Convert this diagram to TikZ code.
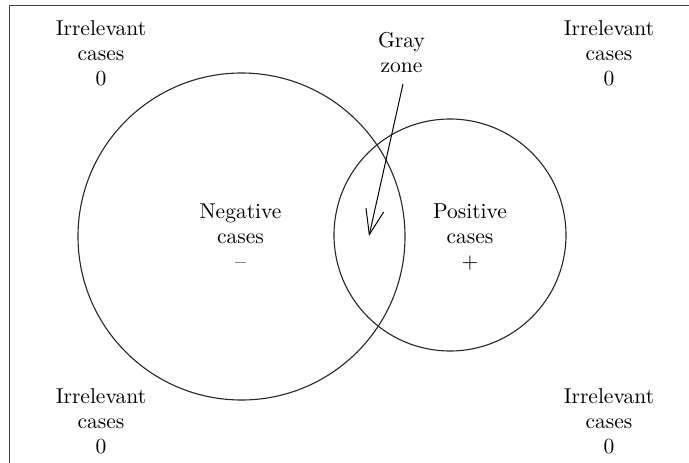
\documentclass[tikz,border=0pt]{standalone}
\usetikzlibrary{arrows.meta}
\font\bigrm="[lmroman10-regular.otf]:mapping=tex-text" at 21.5pt
\begin{document}
\begin{tikzpicture}[x=1pt,y=-1pt,
  lbl/.style={align=center,font={\bigrm\baselineskip=25pt},inner sep=0pt,anchor=base},
  ring/.style={draw=black!85,line width=1.1pt},
  frameline/.style={draw=black!75,line width=1pt}]
\useasboundingbox (0,0) rectangle (689,463);
\draw[frameline] (9.5,463) -- (9.5,5.5) -- (689,5.5);
\node[ring,circle,minimum size=327pt,inner sep=0pt] (neg) at (241.5,236.5) {};
\node[ring,circle,minimum size=232pt,inner sep=0pt] (pos) at (450,235) {};
\node[lbl] (tl) at (101,85) {Irrelevant\\cases\\0};
\node[lbl] (tr) at (609,85) {Irrelevant\\cases\\0};
\node[lbl] (bl) at (101,453) {Irrelevant\\cases\\0};
\node[lbl] (br) at (609,453) {Irrelevant\\cases\\0};
\node[lbl] (negl) at (240.5,268) {Negative\\cases\\–};
\node[lbl] (posl) at (470,268) {Positive\\cases\\+};
\node[lbl] (gz) at (401.5,72) {Gray\\zone};
\coordinate (gzpt) at (369,236);
\draw[line width=1pt,-{Straight Barb[length=25pt,width=18pt]}] (403,84) -- (gzpt);
\end{tikzpicture}
\end{document}
